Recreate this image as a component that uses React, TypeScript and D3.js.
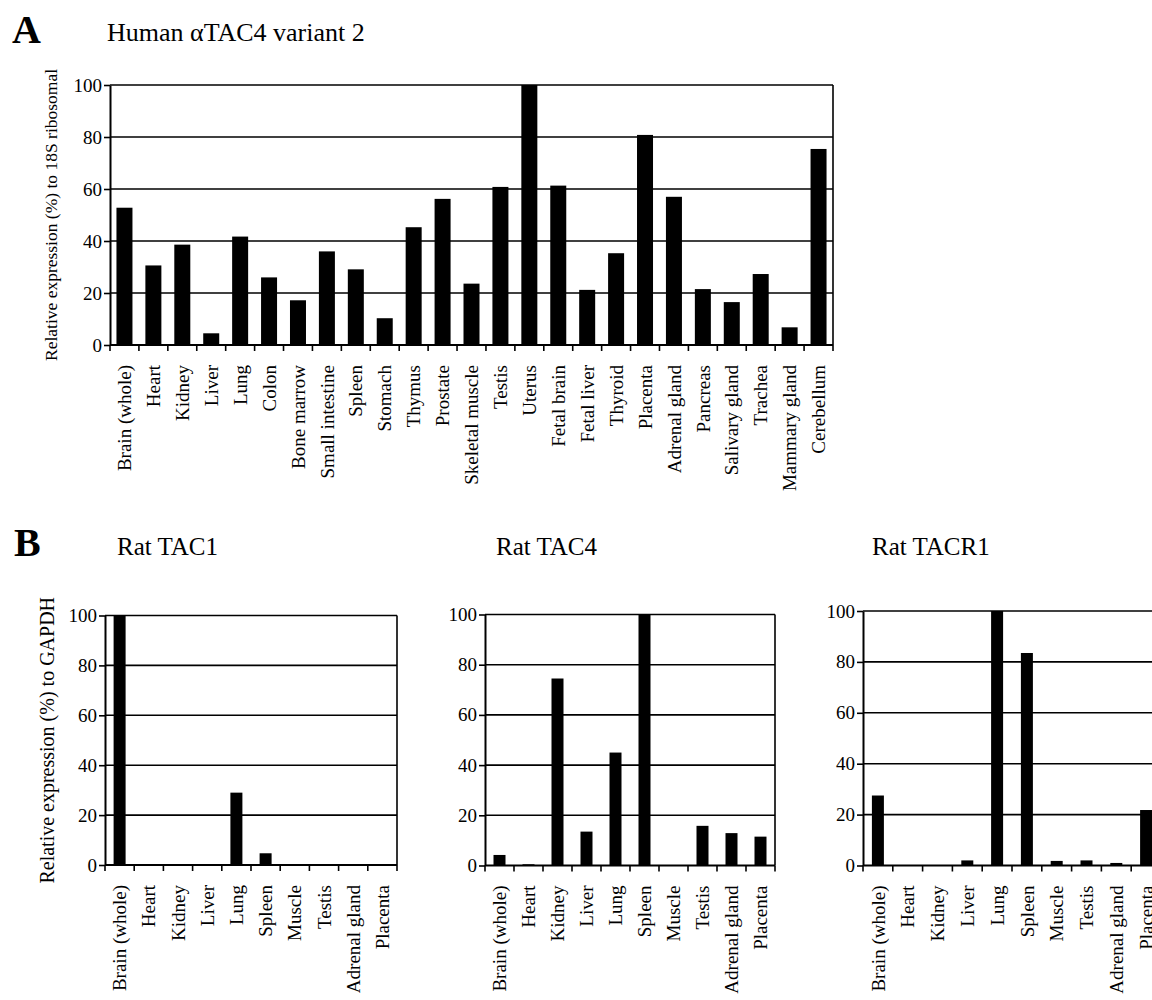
import * as d3 from "d3";
import { useEffect, useRef } from "react";

// Panel A: human alphaTAC4 variant 2, relative to 18S ribosomal
const humanTissues = [
  "Brain (whole)", "Heart", "Kidney", "Liver", "Lung", "Colon", "Bone marrow",
  "Small intestine", "Spleen", "Stomach", "Thymus", "Prostate", "Skeletal muscle",
  "Testis", "Uterus", "Fetal brain", "Fetal liver", "Thyroid", "Placenta",
  "Adrenal gland", "Pancreas", "Salivary gland", "Trachea", "Mammary gland", "Cerebellum",
];
const humanTac4Values = [
  52.8, 30.6, 38.6, 4.5, 41.7, 26, 17.2, 36, 29.1, 10.3, 45.3, 56.2, 23.6,
  60.8, 100, 61.3, 21.2, 35.3, 80.8, 57, 21.5, 16.5, 27.3, 6.8, 75.4,
];

// Panel B: rat tissues, relative to GAPDH
const ratTissues = [
  "Brain (whole)", "Heart", "Kidney", "Liver", "Lung", "Spleen", "Muscle",
  "Testis", "Adrenal gland", "Placenta",
];
const ratTac1Values = [100, 0, 0, 0, 29, 4.7, 0, 0, 0, 0];
const ratTac4Values = [4.2, 0.5, 74.5, 13.5, 45, 100, 0, 15.8, 12.9, 11.5];
const ratTacr1Values = [27.5, 0, 0, 2, 100, 83.5, 1.8, 2, 1, 21.8];

const yTicks = [0, 20, 40, 60, 80, 100];

const FONT = "Liberation Serif, Times New Roman, serif";

type PanelSpec = {
  categories: string[];
  values: number[];
  left: number;
  right: number;
  top: number;
  bottom: number;
  barWidth: number;
  title?: string;
  titleX?: number;
  titleY?: number;
  titleSize?: number;
  yTitle?: string;
  yTitleX?: number;
  yTitleSize?: number;
  labelGap: number;
};

function drawPanel(root: d3.Selection<SVGSVGElement, unknown, null, undefined>, p: PanelSpec) {
  const g = root.append("g");
  const n = p.categories.length;

  const x = d3.scaleBand<string>().domain(p.categories).range([p.left, p.right]);
  const edges = d3.scaleLinear().domain([0, n]).range([p.left, p.right]);
  const y = d3.scaleLinear().domain([0, 100]).range([p.bottom, p.top]);

  // horizontal gridlines (the one at 100 is the frame top)
  g.selectAll("line.grid")
    .data(yTicks.filter((t) => t > 0))
    .enter()
    .append("line")
    .attr("x1", p.left)
    .attr("x2", p.right)
    .attr("y1", (d) => y(d))
    .attr("y2", (d) => y(d))
    .attr("stroke", "#000")
    .attr("stroke-width", 1.6);

  // right border
  g.append("line")
    .attr("x1", p.right)
    .attr("x2", p.right)
    .attr("y1", y(100))
    .attr("y2", y(0))
    .attr("stroke", "#000")
    .attr("stroke-width", 1.6);

  // bars
  g.selectAll("rect.bar")
    .data(p.values)
    .enter()
    .append("rect")
    .attr("x", (_, i) => (x(p.categories[i]) as number) + x.bandwidth() / 2 - p.barWidth / 2)
    .attr("width", p.barWidth)
    .attr("y", (d) => y(d))
    .attr("height", (d) => y(0) - y(d))
    .attr("fill", "#000");

  // y axis
  const yAxis = d3
    .axisLeft(y)
    .tickValues(yTicks)
    .tickSize(6)
    .tickSizeOuter(0)
    .tickPadding(2);
  const ya = g.append("g").attr("transform", `translate(${p.left},0)`).call(yAxis);
  ya.attr("font-family", null).attr("font-size", null);
  ya.selectAll("path").attr("stroke", "#000").attr("stroke-width", 2);
  ya.selectAll("line").attr("stroke", "#000").attr("stroke-width", 1.6);
  ya.selectAll("text")
    .style("font-family", FONT)
    .style("font-size", "19px")
    .attr("fill", "#000");

  // x axis line and boundary ticks
  g.append("line")
    .attr("x1", p.left)
    .attr("x2", p.right)
    .attr("y1", y(0))
    .attr("y2", y(0))
    .attr("stroke", "#000")
    .attr("stroke-width", 2);
  g.selectAll("line.xtick")
    .data(d3.range(n + 1))
    .enter()
    .append("line")
    .attr("x1", (d) => edges(d))
    .attr("x2", (d) => edges(d))
    .attr("y1", y(0))
    .attr("y2", y(0) + 6)
    .attr("stroke", "#000")
    .attr("stroke-width", 1.6);

  // category labels, rotated
  g.selectAll("text.cat")
    .data(p.categories)
    .enter()
    .append("text")
    .attr(
      "transform",
      (d) => `translate(${(x(d) as number) + x.bandwidth() / 2},${y(0) + p.labelGap}) rotate(-90)`
    )
    .attr("text-anchor", "end")
    .attr("dy", "0.35em")
    .style("font-family", FONT)
    .style("font-size", "19px")
    .attr("fill", "#000")
    .text((d) => d);

  if (p.yTitle) {
    g.append("text")
      .attr("transform", `translate(${p.yTitleX},${(p.top + p.bottom) / 2}) rotate(-90)`)
      .attr("text-anchor", "middle")
      .attr("dy", "0.35em")
      .style("font-family", FONT)
      .style("font-size", `${p.yTitleSize ?? 18}px`)
      .attr("fill", "#000")
      .text(p.yTitle);
  }

  if (p.title) {
    g.append("text")
      .attr("x", p.titleX as number)
      .attr("y", p.titleY as number)
      .style("font-family", FONT)
      .style("font-size", `${p.titleSize ?? 25}px`)
      .attr("fill", "#000")
      .text(p.title);
  }
}

const App: React.FC = () => {
  const ref = useRef<SVGSVGElement | null>(null);

  useEffect(() => {
    const svg = d3.select(ref.current as SVGSVGElement);
    svg.selectAll("*").remove();

    svg.append("rect").attr("width", 1152).attr("height", 1000).attr("fill", "#fff");

    // panel letters
    svg.append("text")
      .attr("x", 12)
      .attr("y", 43)
      .style("font-family", FONT)
      .style("font-weight", "bold")
      .style("font-size", "40px")
      .text("A");
    svg.append("text")
      .attr("x", 14)
      .attr("y", 556)
      .style("font-family", FONT)
      .style("font-weight", "bold")
      .style("font-size", "40px")
      .text("B");

    drawPanel(svg, {
      categories: humanTissues,
      values: humanTac4Values,
      left: 110,
      right: 833,
      top: 85,
      bottom: 345,
      barWidth: 16,
      title: "Human \u03b1TAC4 variant 2",
      titleX: 107,
      titleY: 41,
      titleSize: 26,
      yTitle: "Relative expression (%) to 18S ribosomal",
      yTitleX: 51,
      yTitleSize: 17.5,
      labelGap: 20,
    });

    drawPanel(svg, {
      categories: ratTissues,
      values: ratTac1Values,
      left: 105,
      right: 397,
      top: 615.5,
      bottom: 865,
      barWidth: 12,
      title: "Rat TAC1",
      titleX: 117,
      titleY: 555,
      yTitle: "Relative expression (%) to GAPDH",
      yTitleX: 47,
      yTitleSize: 20,
      labelGap: 20,
    });

    drawPanel(svg, {
      categories: ratTissues,
      values: ratTac4Values,
      left: 485,
      right: 775,
      top: 614.5,
      bottom: 865.5,
      barWidth: 12,
      title: "Rat TAC4",
      titleX: 496,
      titleY: 555,
      labelGap: 20,
    });

    drawPanel(svg, {
      categories: ratTissues,
      values: ratTacr1Values,
      left: 863,
      right: 1161,
      top: 611,
      bottom: 865.5,
      barWidth: 12,
      title: "Rat TACR1",
      titleX: 872,
      titleY: 555,
      labelGap: 20,
    });
  }, []);

  return (
    <svg
      ref={ref}
      width={1152}
      height={1000}
      style={{ position: "absolute", left: 0, top: 0, overflow: "hidden", fontFamily: FONT }}
    />
  );
};

export default App;
